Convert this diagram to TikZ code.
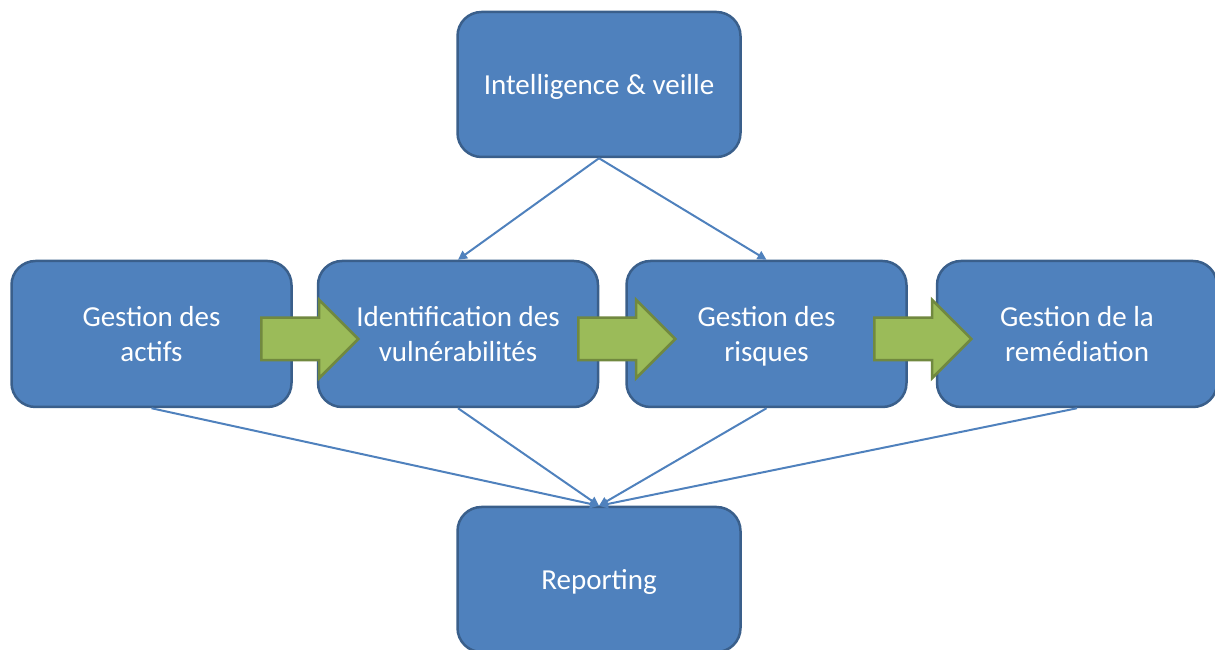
\documentclass[tikz,border=0pt]{standalone}
\usepackage{fontspec}
\setmainfont{Carlito}
\usetikzlibrary{arrows.meta,positioning,shapes.arrows}
\tikzset{>={Triangle[length=9pt,width=9pt]}}
\definecolor{boxfill}{HTML}{4F81BD}
\definecolor{boxline}{HTML}{3A5F8B}
\definecolor{flowfill}{HTML}{9BBB59}
\definecolor{flowline}{HTML}{71893F}

\begin{document}
\begin{tikzpicture}[x=1pt,y=1pt]
\tikzset{
  box/.style={
    draw=boxline,
    line width=2.5pt,
    fill=boxfill,
    rounded corners=24pt,
    minimum width=280pt,
    minimum height=146pt,
    text depth=0pt,
    align=center,
    text=white,
    font=\fontsize{29}{35}\selectfont
  },
  flow/.style={
    single arrow,
    draw=flowline,
    line width=2.5pt,
    fill=flowfill,
    inner sep=0pt,
    inner ysep=20pt,
    minimum height=97pt,
    single arrow head extend=18pt,
    anchor=tail
  }
};

\tikzstyle{link}=[->,draw=boxfill,line width=2pt]

\useasboundingbox (0,0) rectangle (1215,650);

 % the chain of processes
 \node[box] (actifs) at (151.5,316) {Gestion des\\actifs};
 \node[box,right=24pt of actifs] (vuln) {Identification des\\vulnérabilités};
 \node[box,right=26pt of vuln] (risques) {Gestion des\\risques};
 \node[box,right=28pt of risques] (remed) {Gestion de la\\remédiation};

 \node[box,minimum width=283pt,minimum height=145pt] (intel) at (599,565.5) {Intelligence \& veille};
 \node[box,minimum width=283pt,minimum height=145pt] (report) at (599,70.5) {Reporting};

 % green flow arrows
 \node[flow] (f1) at (260,311) {};
 \node[flow] (f2) at (577,311) {};
 \node[flow] (f3) at (873,311) {};

 \draw[link] (intel.south) -- (vuln.north);
 \draw[link] (intel.south) -- (risques.north);

 \draw[link] (actifs.south) -- (report.north);
 \draw[link] (vuln.south) -- (report.north);
 \draw[link] (risques.south) -- (report.north);
 \draw[link] (remed.south) -- (report.north);
\end{tikzpicture}
\end{document}
